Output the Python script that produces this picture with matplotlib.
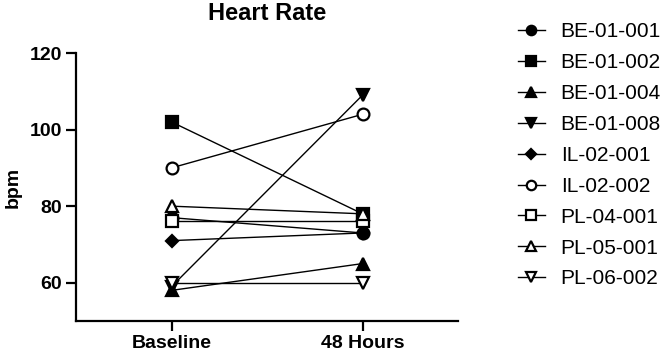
import matplotlib
matplotlib.use("Agg")
import matplotlib.pyplot as plt

plt.rcParams['font.family'] = ['Liberation Sans', 'DejaVu Sans']

timepoints = ["Baseline", "48 Hours"]
subjects = ["BE-01-001", "BE-01-002", "BE-01-004", "BE-01-008", "IL-02-001",
            "IL-02-002", "PL-04-001", "PL-05-001", "PL-06-002"]
baseline = [77, 102, 58, 59, 71, 90, 76, 80, 60]
hours48 = [73, 78, 65, 109, 73, 104, 76, 78, 60]
markers = ["o", "s", "^", "v", "D", "o", "s", "^", "v"]
filled = [True, True, True, True, True, False, False, False, False]
yticks = [60, 80, 100, 120]

fig = plt.figure(figsize=(6.64, 3.56), dpi=100)
ax = fig.add_axes([0.1145, 0.0983, 0.5753, 0.7527])

x = list(range(len(timepoints)))
for name, b, h, m, f in zip(subjects, baseline, hours48, markers, filled):
    ms = 6.5 if m == "D" else 8.5
    ax.plot(x, [b, h], color="black", linewidth=1.0, marker=m, markersize=ms,
            markerfacecolor="black" if f else "white", markeredgecolor="black",
            markeredgewidth=1.6, label=name, clip_on=False)

ax.set_xlim(-0.5, 1.5)
ax.set_ylim(50, 120)
ax.set_xticks(x)
ax.set_xticklabels(timepoints, fontsize=14, fontweight="bold")
ax.set_yticks(yticks)
ax.set_yticklabels([str(v) for v in yticks], fontsize=14, fontweight="bold")
ax.spines["top"].set_visible(False)
ax.spines["right"].set_visible(False)
for s in ["left", "bottom"]:
    ax.spines[s].set_linewidth(1.6)
ax.tick_params(axis="both", length=7, width=1.6, pad=3)
ax.set_ylabel("bpm", fontsize=14, fontweight="bold", labelpad=6)
ax.set_title("Heart Rate", fontsize=17, fontweight="bold", pad=24)

fig.legend(loc="upper left", bbox_to_anchor=(0.78, 0.937), frameon=False,
           fontsize=15, handlelength=1.3, handletextpad=0.75, labelspacing=0.57,
           markerscale=0.8, borderpad=0, borderaxespad=0)

fig.savefig("out.png", dpi=100)
